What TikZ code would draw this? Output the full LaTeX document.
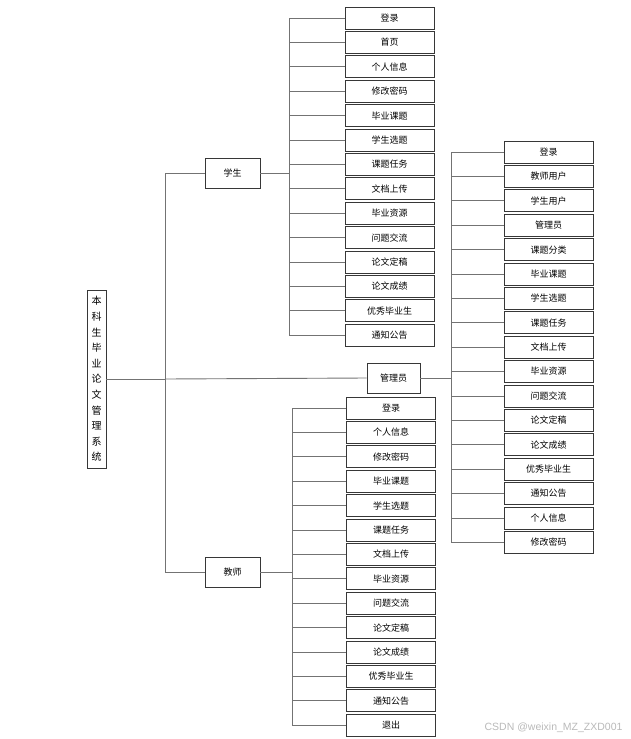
\documentclass[tikz,border=0pt]{standalone}
\usepackage{fontspec}
\setmainfont{Noto Sans CJK SC}
\newfontfamily\markfont{Liberation Sans}
\usetikzlibrary{positioning}
\definecolor{boxEdge}{RGB}{55, 55, 55}
\definecolor{linkGray}{RGB}{115, 115, 115}
\definecolor{markGray}{RGB}{185, 185, 185}
\tikzset{
  leafBox/.style={draw=boxEdge, line width=0.9pt, minimum width=89pt, minimum height=22pt, inner sep=0pt, font=\fontsize{9pt}{10pt}\selectfont},
  groupBox/.style={draw=boxEdge, line width=0.9pt, minimum width=55pt, minimum height=30pt, inner sep=0pt, font=\fontsize{9pt}{10pt}\selectfont},
  link/.style={draw=linkGray, line width=0.9pt}
}

\begin{document}
\begin{tikzpicture}[x=1pt, y=-1pt]
  \useasboundingbox (0,0) rectangle (631,739);

  % root and second level
  \node[draw=boxEdge, line width=0.9pt, minimum width=19pt, minimum height=178pt, inner sep=0pt, text width=11pt, align=center,
        font=\fontsize{10pt}{15.6pt}\selectfont] (root) at (96.5,379)
        {本\\科\\生\\毕\\业\\论\\文\\管\\理\\系\\统};
  \node[groupBox] (stu) at (232.5,173) {学生};
  \node[groupBox, minimum width=53pt] (adm) at (393.5,378) {管理员};
  \node[groupBox] (tea) at (232.5,572) {教师};

  \coordinate (trunk) at (165,173);
  \coordinate (stuBus) at (289,0);
  \coordinate (admBus) at (451,0);
  \coordinate (teaBus) at (292,0);

  \draw[link] (root.east) -- (root.east -| trunk);
  \draw[link] (trunk) -- (tea.west -| trunk) -- (tea.west);
  \draw[link] (trunk) -- (stu.west);
  \draw[link] (root.east -| trunk) -- (adm.west);

  % student functions
  \foreach \txt [count=\i] in {登录,首页,个人信息,修改密码,毕业课题,学生选题,课题任务,文档上传,毕业资源,问题交流,论文定稿,论文成绩,优秀毕业生,通知公告}
    \node[leafBox] (stu\i) at (389.5,{18+(\i-1)*24.4}) {\txt};
  \draw[link] (stu.east) -- (stu.east -| stuBus);
  \draw[link] (stu1.west -| stuBus) -- (stu14.west -| stuBus);
  \foreach \i in {1,...,14}
    \draw[link] (stu\i.west -| stuBus) -- (stu\i.west);

  % admin functions
  \foreach \txt [count=\i] in {登录,教师用户,学生用户,管理员,课题分类,毕业课题,学生选题,课题任务,文档上传,毕业资源,问题交流,论文定稿,论文成绩,优秀毕业生,通知公告,个人信息,修改密码}
    \node[leafBox] (adm\i) at (548.5,{152+(\i-1)*24.4}) {\txt};
  \draw[link] (adm.east) -- (adm.east -| admBus);
  \draw[link] (adm1.west -| admBus) -- (adm17.west -| admBus);
  \foreach \i in {1,...,17}
    \draw[link] (adm\i.west -| admBus) -- (adm\i.west);

  % teacher functions
  \foreach \txt [count=\i] in {登录,个人信息,修改密码,毕业课题,学生选题,课题任务,文档上传,毕业资源,问题交流,论文定稿,论文成绩,优秀毕业生,通知公告,退出}
    \node[leafBox] (tea\i) at (391,{408+(\i-1)*24.4}) {\txt};
  \draw[link] (tea.east) -- (tea.east -| teaBus);
  \draw[link] (tea1.west -| teaBus) -- (tea14.west -| teaBus);
  \foreach \i in {1,...,14}
    \draw[link] (tea\i.west -| teaBus) -- (tea\i.west);

  \node[text=markGray, font=\markfont\fontsize{10.5pt}{12pt}\selectfont, anchor=east] (mark) at (626,728) {CSDN @weixin\_MZ\_ZXD001};
\end{tikzpicture}
\end{document}
